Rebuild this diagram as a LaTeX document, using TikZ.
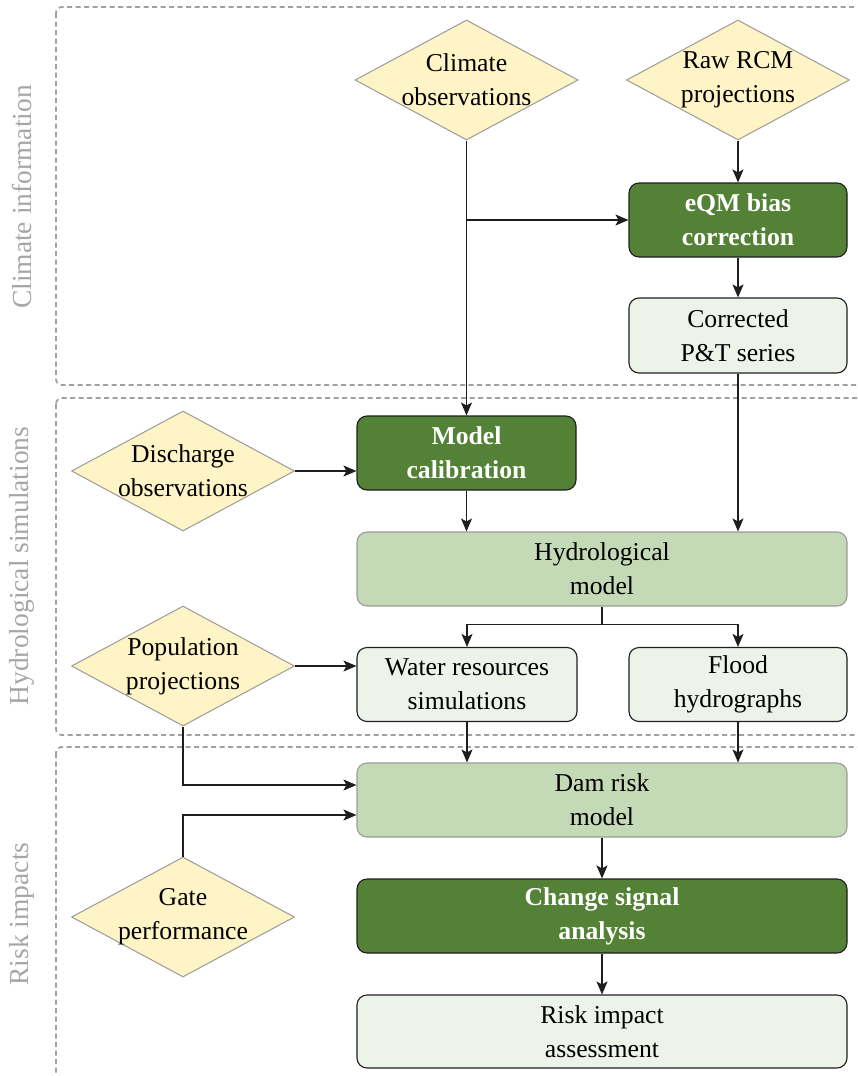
\documentclass[tikz,border=0pt]{standalone}
\usepackage{fontspec}
\setmainfont{Liberation Serif}
\usetikzlibrary{shapes.geometric,arrows.meta}
\definecolor{dgreen}{HTML}{538135}
\definecolor{mgreen}{HTML}{C4DAB6}
\definecolor{lgreen}{HTML}{EEF3E9}
\definecolor{dyellow}{HTML}{FFF4C6}
\definecolor{dstroke}{HTML}{9A9A9A}
\definecolor{framec}{HTML}{A0A0A0}
\definecolor{labelc}{HTML}{A6A6A6}
\definecolor{linec}{HTML}{1E1E1E}
\tikzset{
  nodefont/.style={font=\fontsize{25.7}{34}\selectfont},
  box/.style={nodefont, rectangle, rounded corners=10pt, align=center, inner sep=0pt, line width=1.1pt},
  darkbox/.style={box, fill=dgreen, draw=linec, text=white, font=\fontsize{25.7}{34}\selectfont\bfseries},
  midbox/.style={box, fill=mgreen, draw=dstroke},
  lightbox/.style={box, fill=lgreen, draw=linec},
  dia/.style={diamond, fill=dyellow, draw=dstroke, line width=1pt, inner sep=0pt, minimum width=223pt, minimum height=120pt},
  diatext/.style={nodefont, align=center, inner sep=0pt},
  frame/.style={draw=framec, dash pattern=on 5pt off 3.5pt, line width=1.8pt, rounded corners=6pt},
  grouplabel/.style={font=\fontsize{27.5}{33}\selectfont, text=labelc, rotate=90, inner sep=0pt},
  arr/.style={draw=linec, line width=1.2pt, -{Stealth[length=13pt,width=11pt,inset=3pt]}},
  ln/.style={draw=linec, line width=1.2pt}
}
\begin{document}
\begin{tikzpicture}[x=1pt,y=-1pt]
\useasboundingbox (0,0) rectangle (857,1076);
\begin{scope}
\clip (0,0) rectangle (857,1076);
\draw[frame] (56,7) rectangle (900,385);
\draw[frame] (56,398) rectangle (900,735);
\draw[frame] (56,747) rectangle (900,1095);
\end{scope}

% group labels
\node[grouplabel] (g1) at (22,197) {Climate information};
\node[grouplabel] (g2) at (22,566) {Hydrological simulations};
\node[grouplabel] (g3) at (22,914) {Risk impacts};

% diamonds
\node[dia] (co) at (466.5,80) {};
\node[diatext] (cot) at (466.5,80) {Climate\\observations};
\node[dia] (rcm) at (738,80) {};
\node[diatext] (rcmt) at (738,80) {Raw RCM\\projections};
\node[dia] (dis) at (183,471) {};
\node[diatext] (dist) at (183,471) {Discharge\\observations};
\node[dia] (pop) at (183,666) {};
\node[diatext] (popt) at (183,666) {Population\\projections};
\node[dia] (gate) at (183,917) {};
\node[diatext] (gatet) at (183,917) {Gate\\performance};

% boxes
\node[darkbox, minimum width=218pt, minimum height=74pt] (eqm) at (738,220) {eQM bias\\correction};
\node[lightbox, minimum width=218pt, minimum height=75pt] (cor) at (738,335.5) {Corrected\\P\&T series};
\node[darkbox, minimum width=219pt, minimum height=74pt] (cal) at (466.5,453) {Model\\calibration};
\node[midbox, minimum width=490pt, minimum height=74pt] (hyd) at (602,569) {Hydrological\\model};
\node[lightbox, minimum width=220pt, minimum height=74pt] (wr) at (467,684.5) {Water resources\\simulations};
\node[lightbox, minimum width=218pt, minimum height=74pt] (fl) at (738,684.5) {Flood\\hydrographs};
\node[midbox, minimum width=490pt, minimum height=74pt] (dam) at (602,800) {Dam risk\\model};
\node[darkbox, minimum width=490pt, minimum height=74pt] (csa) at (602,916) {Change signal\\analysis};
\node[lightbox, minimum width=490pt, minimum height=73pt] (ria) at (602,1031.5) {Risk impact\\assessment};

% connectors
\draw[arr] (co.south) -- (co.south |- cal.north);
\draw[arr] (co.south |- eqm.west) -- (eqm.west);
\draw[arr] (rcm.south) -- (eqm.north);
\draw[arr] (eqm.south) -- (cor.north);
\draw[arr] (cor.south) -- (cor.south |- hyd.north);
\draw[arr] (dis.east) -- (dis.east -| cal.west);
\draw[arr] (cal.south) -- (cal.south |- hyd.north);
\draw[arr] (hyd.south) -- ++(0,18) -| (wr.north);
\draw[arr] (hyd.south) -- ++(0,18) -| (fl.north);
\draw[arr] (pop.east) -- (pop.east -| wr.west);
\draw[arr] (wr.south) -- (wr.south |- dam.north);
\draw[arr] (fl.south) -- (fl.south |- dam.north);
\draw[arr] (pop.south) |- ([yshift=15pt]dam.west);
\draw[arr] (gate.north) |- ([yshift=-15pt]dam.west);
\draw[arr] (dam.south) -- (csa.north);
\draw[arr] (csa.south) -- (ria.north);
\end{tikzpicture}
\end{document}
